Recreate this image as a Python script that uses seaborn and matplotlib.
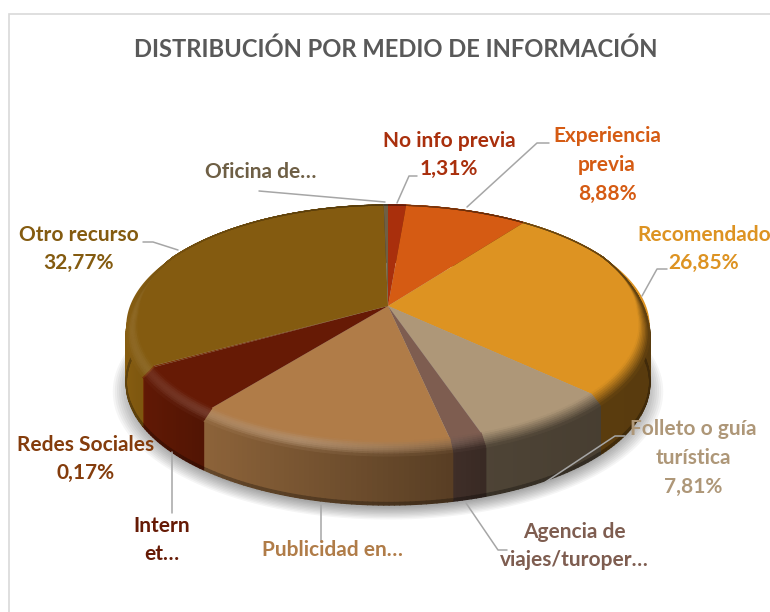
import numpy as np
import matplotlib
matplotlib.use("Agg")
import matplotlib.pyplot as plt
import seaborn as sns
from matplotlib.collections import PolyCollection
from matplotlib.patches import Rectangle
from matplotlib.path import Path
from matplotlib.transforms import Affine2D, Transform

# ---------- data ----------
categories = ["No info previa", "Experiencia previa", "Recomendado", "Folleto o guía turística",
              "Agencia de viajes/turoperador", "Publicidad en medios", "Internet", "Redes Sociales",
              "Otro recurso", "Oficina de turismo"]
shares = [1.31, 8.88, 26.85, 7.81, 1.80, 14.00, 6.10, 0.17, 32.77, 0.31]
colors = ["#A92F0C", "#D55B13", "#DD9322", "#AE9778", "#7E5D50",
          "#B07C48", "#661A05", "#7A3006", "#845B10", "#6E5F45"]
title = "DISTRIBUCIÓN POR MEDIO DE INFORMACIÓN"
label_texts = ["No info previa\n1,31%", "Experiencia\nprevia\n8,88%", "Recomendado\n26,85%",
               "Folleto o guía\nturística\n7,81%", "Agencia de\nviajes/turoper…", "Publicidad en…",
               "Intern\net…", "Redes Sociales\n0,17%", "Otro recurso\n32,77%", "Oficina de…"]
label_colors = ["#A92F0C", "#D55B13", "#DD9322", "#AE9778", "#7E5D50",
                "#B07C48", "#661A05", "#843C0C", "#845B10", "#6E5F45"]

# ---------- layout ----------
label_pos = [(449, 155), (607, 165), (704, 249), (693, 458), (574, 546),
             (332, 550), (162, 540), (86, 459), (79, 249), (261, 172)]
leaders = [[(417, 176), (409, 176), (397, 203)],
           [(549, 143), (537, 143), (467, 207)],
           [(667, 269), (657, 269), (642, 296)],
           [(625, 436), (615, 436), (544, 483)],
           [(507, 550), (498, 550), (466, 503)],
           [(321, 542), (321, 505)],
           [(172, 513), (172, 452)],
           [(143, 242), (153, 242), (178, 250)],
           [(259, 191), (385, 202)]]

CX, CY, AX_X, AX_Y, K, DEPTH, BEVEL = 388, 306, 258, 118, 0.169, 57, 8


def project(X, Y, dz=0.0):
    w = 1 + K * Y
    return CX + AX_X * X / w, CY - AX_Y * Y / w + dz


class DiscProjection(Transform):
    input_dims = output_dims = 2
    is_affine = False
    has_inverse = False

    def transform_non_affine(self, values):
        values = np.asarray(values, float)
        x, y = project(values[:, 0], values[:, 1])
        return np.column_stack([x, y])

    def transform_path_non_affine(self, path):
        polys = path.transformed(Affine2D().scale(3000)).to_polygons(closed_only=False)
        verts = np.vstack(polys) / 3000.0
        return Path(self.transform_non_affine(verts))


sns.set_theme(style="white")
plt.rcParams["font.family"] = ["Lato", "DejaVu Sans"]
palette = sns.color_palette(colors)

fig = plt.figure(figsize=(7.7, 6.12), dpi=100, facecolor="white")
ax = fig.add_axes([0, 0, 1, 1])
wedges, _ = ax.pie(shares, colors=palette, startangle=90, counterclock=False, radius=1.0,
                   wedgeprops=dict(linewidth=0, zorder=4))
ax.set_aspect("auto")
ax.set_xlim(0, 770)
ax.set_ylim(612, 0)
ax.axis("off")
ax.add_patch(Rectangle((9, 14), 900, 800, fc="white", ec="#D9D9D9", lw=1.2, zorder=0))

proj = DiscProjection() + ax.transData
for w in wedges:
    w.set_transform(proj)

# soft shadow under the disc
ring = np.radians(np.arange(0, 361, 2))
for r in np.linspace(1.05, 0.98, 10):
    sx, sy = project(r * np.cos(ring), r * np.sin(ring), DEPTH + 6)
    ax.fill(sx, sy, color="black", alpha=0.04, lw=0, zorder=1)


def wall_shade(x):
    return np.interp(x, [125, 143, 205, 453, 484, 600, 650], [1.02, 0.95, 0.80, 0.50, 0.45, 0.41, 0.40])


def highlight(x):
    return np.interp(x, [125, 300, 453, 500], [0.08, 0.22, 0.08, 0.0])


def rim_strength(Y):
    return np.clip((0.45 - Y) / 0.5, 0, 1)


def band(theta, s0, s1, mode, base):
    """One quad of the rim; s runs along the bevel or the wall."""
    polys, cols = [], []
    for a0, a1 in zip(theta[:-1], theta[1:]):
        pts = []
        for a, s in ((a0, s0), (a1, s0), (a1, s1), (a0, s1)):
            X, Y = np.cos(a), np.sin(a)
            strength = rim_strength(Y)
            bevel_h = BEVEL * strength
            if mode == "bevel":
                r = 1 - 0.04 * strength * (1 - s)
                dz = bevel_h * s
            else:
                r, dz = 1.0, bevel_h + (DEPTH - bevel_h) * s
            pts.append(project(r * X, r * Y, dz))
        pts = np.array(pts)
        xm = pts[:, 0].mean()
        strength = rim_strength(np.sin((a0 + a1) / 2))
        side = np.clip(np.array(base) * wall_shade(xm), 0, 1)
        if mode == "bevel":
            sm = (s0 + s1) / 2
            c = np.array(base) * (1 - sm) + side * sm
            h = highlight(xm) * np.sin(np.pi * sm) * strength
            c = c + (1 - c) * h
        else:
            c = side * (0.72 if s0 >= 0.95 else 1.0)
        polys.append(pts)
        cols.append(np.clip(c, 0, 1))
    return polys, cols


walls_p, walls_c, bev_p, bev_c = [], [], [], []
for w, base in zip(wedges, palette):
    n = max(2, int(np.ceil(w.theta2 - w.theta1)))
    theta = np.radians(np.linspace(w.theta1, w.theta2, n + 1))
    for s0, s1 in ((0.0, 0.95), (0.95, 1.0)):
        p, c = band(theta, s0, s1, "wall", base)
        walls_p += p
        walls_c += c
    edges = np.linspace(0, 1, 9)
    for s0, s1 in zip(edges[:-1], edges[1:]):
        p, c = band(theta, s0, s1, "bevel", base)
        bev_p += p
        bev_c += c

ax.add_collection(PolyCollection(walls_p, facecolors=walls_c, edgecolors=walls_c, linewidths=1.0, zorder=3))
ax.add_collection(PolyCollection(bev_p, facecolors=bev_c, edgecolors=bev_c, linewidths=0.8, zorder=5))

# leader lines
for line in leaders:
    xs, ys = zip(*line)
    ax.plot(xs, ys, color="#A6A6A6", lw=1.1, zorder=6, solid_joinstyle="round")

# labels
for text, pos, col in zip(label_texts, label_pos, label_colors):
    ax.text(pos[0], pos[1], text, color=col, fontsize=15, fontweight="bold", ha="center", va="center",
            linespacing=1.55, zorder=7, multialignment="center", clip_on=False)

ax.text(396, 49, title, color="#595959", fontsize=17.1, fontweight="bold", ha="center", va="center", zorder=7)

fig.savefig("out.png", dpi=100, facecolor="white")
